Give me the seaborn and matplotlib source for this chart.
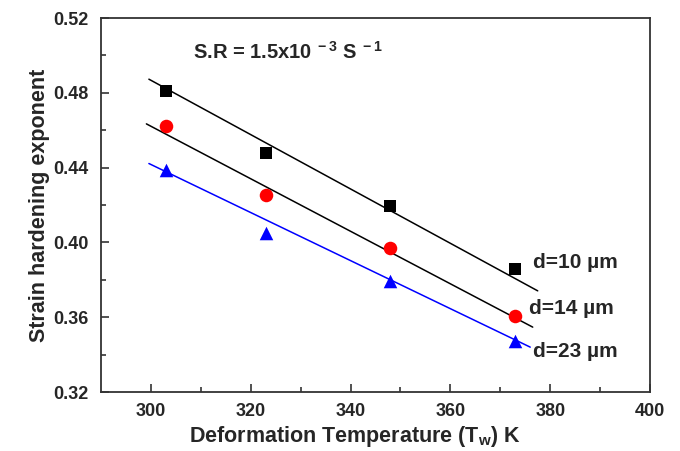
import matplotlib
matplotlib.use("Agg")
import matplotlib.pyplot as plt
import seaborn as sns
import numpy as np
import pandas as pd

# ---- data ----
temperature = [303, 323, 348, 373]
n_d10 = [0.481, 0.448, 0.4196, 0.3857]
n_d14 = [0.462, 0.4255, 0.3968, 0.3607]
n_d23 = [0.4387, 0.4048, 0.3794, 0.3475]
series_labels = ["d=10 µm", "d=14 µm", "d=23 µm"]

# fitted lines (end points)
fit_d10_x = [299.6, 377.5]
fit_d10_y = [0.4873, 0.3741]
fit_d14_x = [299.1, 376.5]
fit_d14_y = [0.4634, 0.3547]
fit_d23_x = [299.6, 376.0]
fit_d23_y = [0.4422, 0.3440]

x_ticks = [300, 320, 340, 360, 380, 400]
y_ticks = [0.32, 0.36, 0.40, 0.44, 0.48, 0.52]

sns.set_theme(style="white")
plt.rcParams["font.family"] = ["Liberation Sans", "DejaVu Sans"]
plt.rcParams["font.weight"] = "bold"
plt.rcParams["mathtext.fontset"] = "custom"
plt.rcParams["mathtext.rm"] = "Liberation Sans:bold"
plt.rcParams["mathtext.it"] = "Liberation Sans:bold"
plt.rcParams["mathtext.bf"] = "Liberation Sans:bold"
plt.rcParams["mathtext.default"] = "rm"

df = pd.DataFrame({
    "T": temperature * 3,
    "n": n_d10 + n_d14 + n_d23,
    "d": [series_labels[0]] * 4 + [series_labels[1]] * 4 + [series_labels[2]] * 4,
})

fig = plt.figure(figsize=(6.8, 4.51), dpi=100)
ax = fig.add_axes([0.1485, 0.1308, 0.8074, 0.8292])

colors = {series_labels[0]: "black", series_labels[1]: "#ff0000", series_labels[2]: "#0000ff"}
markers = {series_labels[0]: "s", series_labels[1]: "o", series_labels[2]: "^"}

# fit lines
ax.plot(fit_d10_x, fit_d10_y, color="black", lw=1.1, zorder=2)
ax.plot(fit_d14_x, fit_d14_y, color="black", lw=1.1, zorder=2)
ax.plot(fit_d23_x, fit_d23_y, color="#0000ff", lw=1.1, zorder=2)

sizes = {series_labels[0]: 75, series_labels[1]: 95, series_labels[2]: 95}
for lab in series_labels:
    sub = df[df["d"] == lab]
    sns.scatterplot(data=sub, x="T", y="n", color=colors[lab], marker=markers[lab],
                    s=sizes[lab], linewidth=0, ax=ax, zorder=3, legend=False)

ax.set_xlim(290, 400)
ax.set_ylim(0.32, 0.52)
ax.set_xticks(x_ticks)
ax.set_yticks(y_ticks)
ax.set_xticklabels([str(v) for v in x_ticks])
ax.set_yticklabels([f"{v:.2f}" for v in y_ticks])
ax.set_xticks([310, 330, 350, 370, 390], minor=True)
ax.set_yticks([0.34, 0.38, 0.42, 0.46, 0.50], minor=True)
ax.tick_params(axis="y", which="major", pad=9)
ax.tick_params(axis="x", which="major", pad=8)
ax.tick_params(axis="both", which="major", direction="in", length=6, width=1.2,
               labelsize=13, color="#333333")
ax.tick_params(axis="both", which="minor", direction="in", length=3.5, width=1.2,
               color="#333333")
ax.tick_params(bottom=True, left=True, top=False, right=False, which="both")
for lbl in ax.get_xticklabels() + ax.get_yticklabels():
    lbl.set_fontweight("bold")

for sp in ax.spines.values():
    sp.set_linewidth(1.3)
    sp.set_color("#333333")

ax.set_xlabel("Deformation Temperature (T$_{w}$) K", fontsize=15.5, fontweight="bold", labelpad=3)
ax.xaxis.label.set_x(0.463)
ax.set_ylabel("Strain hardening exponent", fontsize=15.5, fontweight="bold", labelpad=2)

fig.text(193 / 680, 1 - 51.7 / 451, "S.R = 1.5x10$^{\\ -3}$ S$^{\\ -1}$", fontsize=14.5,
         fontweight="bold", va="center", ha="left")

label_pos = [(533, 262), (529, 309), (533, 351.7)]
for lab, (px, py) in zip(series_labels, label_pos):
    fig.text(px / 680, 1 - py / 451, lab, fontsize=15, fontweight="bold",
             va="center", ha="left")

fig.savefig("out.png", dpi=100)
